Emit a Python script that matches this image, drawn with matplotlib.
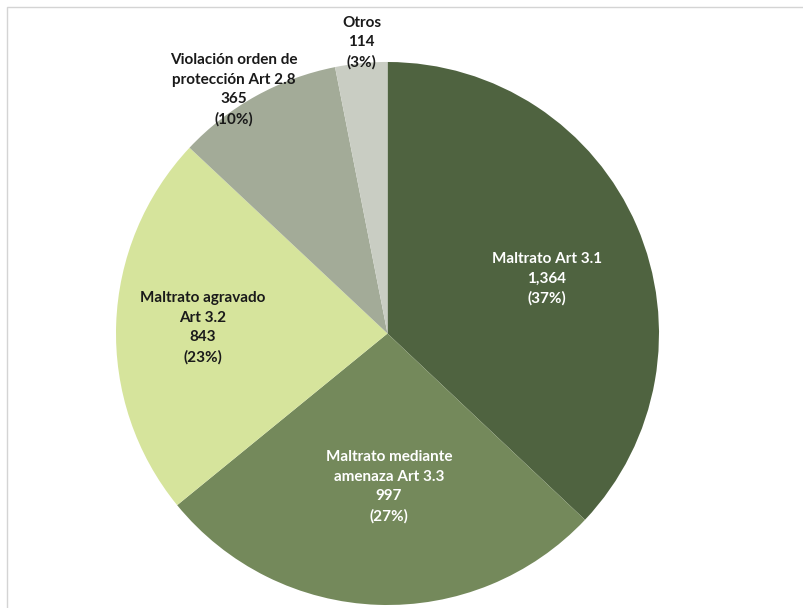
import numpy as np
import matplotlib.pyplot as plt
from matplotlib.patches import Rectangle

plt.rcParams['font.family'] = ['Lato', 'DejaVu Sans']

categories = [
    "Maltrato Art 3.1",
    "Maltrato mediante\namenaza Art 3.3",
    "Maltrato agravado\nArt 3.2",
    "Violación orden de\nprotección Art 2.8",
    "Otros",
]
counts = [1364, 997, 843, 365, 114]
colors = ["#4f6340", "#74895b", "#d6e49c", "#a3ab98", "#c9cdc3"]
text_colors = ["white", "white", "#1a1a1a", "#1a1a1a", "#1a1a1a"]
# label placement: radius fraction and angle nudge (deg) from wedge middle
label_dist = [0.62, 0.565, 0.68, 1.06, 1.075]
label_nudge = [-4.5, 2.6, 0.2, 3.2, -0.5]
explode = [0, 0, 0, 0, 0.05]

W, H = 804, 608
fig = plt.figure(figsize=(W / 100, H / 100), dpi=100)
ax = fig.add_axes([0, 0, 1, 1])

# outer frame
fig.patches.append(Rectangle((7 / W, -0.02), 1.0, (H - 7) / H + 0.02,
                             transform=fig.transFigure, fill=False,
                             edgecolor="#d4d4d4", lw=1.0))

cx, cy, r = 387.5, H - 333.5, 271.5
wedges, _ = ax.pie(counts, colors=colors, startangle=90, counterclock=False,
                   explode=explode, center=(cx, cy), radius=r,
                   wedgeprops=dict(linewidth=0), frame=True)
ax.set_xlim(0, W)
ax.set_ylim(0, H)
ax.set_aspect("equal")
ax.axis("off")

total = sum(counts)
for w, name, n, tc, d, nu in zip(wedges, categories, counts, text_colors,
                                 label_dist, label_nudge):
    ang = np.deg2rad((w.theta1 + w.theta2) / 2 + nu)
    x = cx + d * r * np.cos(ang)
    y = cy + d * r * np.sin(ang)
    pct = round(100 * n / total)
    ax.text(x, y, f"{name}\n{n:,}\n({pct}%)", ha="center", va="center",
            color=tc, fontsize=11, fontweight="bold", linespacing=1.5)

fig.savefig("out.png", dpi=100, facecolor="white")
